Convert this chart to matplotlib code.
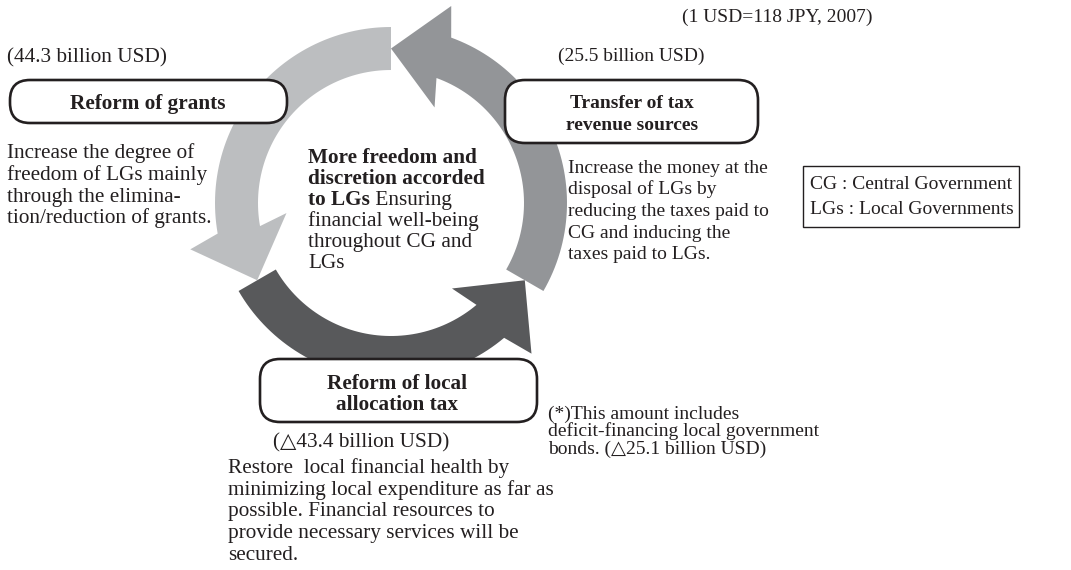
import numpy as np
import matplotlib
matplotlib.use("Agg")
import matplotlib.pyplot as plt
from matplotlib.patches import Polygon, FancyBboxPatch, Rectangle

# ---------------- data (texts) ----------------
rate_note = "(1 USD=118 JPY, 2007)"
step_titles = ["Reform of grants",
               "Transfer of tax\nrevenue sources",
               "Reform of local\nallocation tax"]
step_amounts = ["(44.3 billion USD)",
                "(25.5 billion USD)",
                "(\u25b343.4 billion USD)"]
desc_grants = ["Increase the degree of",
               "freedom of LGs mainly",
               "through the elimina-",
               "tion/reduction of grants."]
desc_transfer = ["Increase the money at the",
                 "disposal of LGs by",
                 "reducing the taxes paid to",
                 "CG and inducing the",
                 "taxes paid to LGs."]
desc_local = ["Restore  local financial health by",
              "minimizing local expenditure as far as",
              "possible. Financial resources to",
              "provide necessary services will be",
              "secured."]
center_bold = ["More freedom and", "discretion accorded", "to LGs"]
center_plain = ["Ensuring", "financial well-being", "throughout CG and", "LGs"]
footnote = ["(*)This amount includes",
            "deficit-financing local government",
            "bonds. (\u25b325.1 billion USD)"]
legend_lines = ["CG : Central Government", "LGs : Local Governments"]
arrow_colors = ["#bcbec0", "#939598", "#58595b"]   # grants, transfer, local
arrow_starts = [90, 330, 210]                         # degrees (tail of each arrow)

# ---------------- layout ----------------
W, H = 1071, 570
fig = plt.figure(figsize=(W / 100, H / 100), dpi=100)
ax = fig.add_axes([0, 0, 1, 1])
ax.set_xlim(0, W)
ax.set_ylim(H, 0)
ax.axis("off")

TXT = "#231f20"
FAM = ["Liberation Serif", "DejaVu Serif"]
FS = 14      # right-hand texts
FL = 15.3    # left / centre / bottom texts

cx, cy = 391, 203
r_in, r_out = 133, 176
r_mid = (r_in + r_out) / 2


def pt(r, a):
    a = np.radians(a)
    return (cx + r * np.cos(a), cy - r * np.sin(a))


def arrow_poly(start):
    base = start + 100
    tip = start + 120
    outer = [pt(r_out, a) for a in np.linspace(start, base, 60)]
    inner = [pt(r_in, a) for a in np.linspace(base, start, 60)]
    head = [pt(206, base + 3), pt(r_mid, tip), pt(105, base - 4.5)]
    return outer + head + inner


for st, col in zip(arrow_starts, arrow_colors):
    ax.add_patch(Polygon(arrow_poly(st), closed=True, facecolor=col,
                         edgecolor="none", zorder=2))


def txt(x, y, s, **kw):
    kw.setdefault("fontsize", FS)
    kw.setdefault("family", FAM)
    kw.setdefault("color", TXT)
    kw.setdefault("va", "baseline")
    return ax.text(x, y, s, zorder=5, **kw)


def rbox(x0, y0, x1, y1):
    ax.add_patch(FancyBboxPatch((x0, y0), x1 - x0, y1 - y0,
                                boxstyle="round,pad=0,rounding_size=20",
                                facecolor="white", edgecolor=TXT,
                                linewidth=1.9, zorder=4))


# rate note
txt(682, 22, rate_note)

# amounts
txt(7, 62, step_amounts[0], fontsize=FL)
txt(558, 61, step_amounts[1])
txt(273, 447, step_amounts[2], fontsize=FL)

# boxes with titles
rbox(10, 80, 287, 123)
txt(148, 109, step_titles[0], ha="center", weight="bold", fontsize=FL)

rbox(505, 80, 758, 143)
for i, line in enumerate(step_titles[1].split("\n")):
    txt(632, 108 + 22 * i, line, ha="center", weight="bold")

rbox(260, 359, 537, 422)
for i, line in enumerate(step_titles[2].split("\n")):
    txt(397, 389 + 21 * i, line, ha="center", weight="bold", fontsize=FL)

# descriptions
for i, line in enumerate(desc_grants):
    txt(7, 158 + 21.8 * i, line, fontsize=FL)
for i, line in enumerate(desc_transfer):
    txt(568, 173 + 21.5 * i, line)
for i, line in enumerate(desc_local):
    txt(228, 473 + 21.7 * i, line, fontsize=FL)

# centre text
cy0 = 163
for i, line in enumerate(center_bold):
    t = txt(308, cy0 + 21.0 * i, line, weight="bold", fontsize=FL)
ax.annotate(" " + center_plain[0], xy=(1, 0), xycoords=t, va="bottom",
            ha="left", fontsize=FL, family=FAM, color=TXT, zorder=5)
for i, line in enumerate(center_plain[1:]):
    txt(308, cy0 + 21.0 * (3 + i), line, fontsize=FL)

# footnote
for i, line in enumerate(footnote):
    txt(548, 419 + 17.3 * i, line)

# legend box
ax.add_patch(Rectangle((803, 166), 216, 61, facecolor="white",
                       edgecolor=TXT, linewidth=1.0, zorder=4))
txt(810, 189, legend_lines[0])
txt(810, 214, legend_lines[1])

fig.savefig("out.png", dpi=100, facecolor="white")
